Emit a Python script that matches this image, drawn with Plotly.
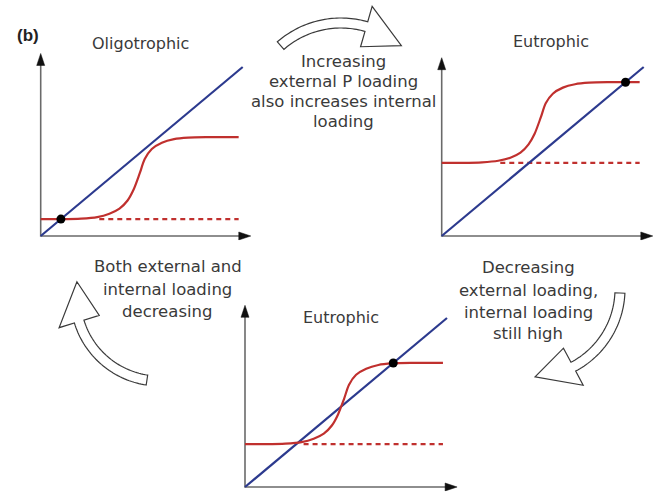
import math
import plotly.graph_objects as go

W, H = 660, 492

# ---------------- data ----------------
line_x = [0, 10]                    # 1:1 sedimentation line
line_y = [0, 10]
curve_x = [0, 1, 2, 2.8, 3.4, 3.9, 4.3, 4.6, 4.9, 5.15, 5.5, 6.0, 6.6, 7.3, 8.2, 9.8]
oligo_y = [1.0, 1.0, 1.03, 1.12, 1.32, 1.62, 2.1, 2.75, 3.7, 4.55, 5.15, 5.52, 5.73, 5.82, 5.85, 5.85]
eutro_up_y = [4.33, 4.33, 4.36, 4.45, 4.63, 4.93, 5.42, 6.05, 7.0, 7.85, 8.42, 8.78, 8.98, 9.07, 9.1, 9.1]
eutro_down_y = [2.54, 2.54, 2.57, 2.66, 2.86, 3.16, 3.64, 4.28, 5.2, 6.05, 6.64, 7.0, 7.22, 7.31, 7.34, 7.34]
curves = [oligo_y, eutro_up_y, eutro_down_y]
dash_x = [2.9, 9.8]
base_levels = [1.0, 4.33, 2.54]
equilibria = [1.0, 9.1, 7.34]
titles = ["Oligotrophic", "Eutrophic", "Eutrophic"]
block_top = ["Increasing", "external P loading", "also increases internal", "loading"]
block_left = ["Both external and", "internal loading", "decreasing"]
block_right = ["Decreasing", "external loading,", "internal loading", "still high"]

# ---------------- layout helpers ----------------
RED = "#c0302e"
BLUE = "#2c3a8e"
TXT = "#3a3a3a"
FONT = "DejaVu Sans"

SX, SY = 20.2, 16.9              # px per data unit
XR, YR = [-0.5, 10.7], [-0.25, 11.2]
origins = [(40.7, 236), (441.7, 236), (245, 487)]
tips = [(10.4, 10.8), (10.45, 10.55), (10.5, 10.75)]
title_pos = [(140, 43), (551, 42), (341, 317)]

fig = go.Figure()
layout_axes = {}
annotations = []

for i in range(3):
    ox, oy = origins[i]
    sfx = "" if i == 0 else str(i + 1)
    xa, ya = "x" + sfx, "y" + sfx
    layout_axes["xaxis" + sfx] = dict(
        domain=[(ox + XR[0] * SX) / W, (ox + XR[1] * SX) / W],
        range=XR, visible=False, anchor=ya, fixedrange=True)
    layout_axes["yaxis" + sfx] = dict(
        domain=[1 - (oy - YR[0] * SY) / H, 1 - (oy - YR[1] * SY) / H],
        range=YR, visible=False, anchor=xa, fixedrange=True)

    xt, yt = tips[i]
    # axis shafts
    fig.add_trace(go.Scatter(x=[0, 0, xt - 0.3], y=[yt - 0.3, 0, 0], mode="lines",
                             line=dict(color="#6a6a6a", width=1.6),
                             xaxis=xa, yaxis=ya, hoverinfo="skip", showlegend=False))
    # arrow heads
    hlx, hwx = 12 / SX, 4 / SY
    hly, hwy = 12 / SY, 4 / SX
    fig.add_trace(go.Scatter(x=[xt, xt - hlx, xt - hlx, xt], y=[0, hwx, -hwx, 0],
                             mode="lines", fill="toself", fillcolor="#111",
                             line=dict(color="#111", width=0.5),
                             xaxis=xa, yaxis=ya, hoverinfo="skip", showlegend=False))
    fig.add_trace(go.Scatter(x=[0, hwy, -hwy, 0], y=[yt, yt - hly, yt - hly, yt],
                             mode="lines", fill="toself", fillcolor="#111",
                             line=dict(color="#111", width=0.5),
                             xaxis=xa, yaxis=ya, hoverinfo="skip", showlegend=False))
    # dashed base level
    fig.add_trace(go.Scatter(x=dash_x, y=[base_levels[i]] * 2, mode="lines",
                             line=dict(color=RED, width=2.2, dash="5px,4px"),
                             xaxis=xa, yaxis=ya, hoverinfo="skip", showlegend=False))
    # 1:1 line
    fig.add_trace(go.Scatter(x=line_x, y=line_y, mode="lines",
                             line=dict(color=BLUE, width=2.2),
                             xaxis=xa, yaxis=ya, hoverinfo="skip", showlegend=False))
    # sigmoid recycling curve
    fig.add_trace(go.Scatter(x=curve_x, y=curves[i], mode="lines",
                             line=dict(color=RED, width=2.2, shape="spline", smoothing=0.8),
                             xaxis=xa, yaxis=ya, hoverinfo="skip", showlegend=False))
    # equilibrium point
    fig.add_trace(go.Scatter(x=[equilibria[i]], y=[equilibria[i]], mode="markers",
                             marker=dict(color="black", size=9),
                             cliponaxis=False,
                             xaxis=xa, yaxis=ya, hoverinfo="skip", showlegend=False))
    tx, ty = title_pos[i]
    annotations.append(dict(text=titles[i], x=tx / W, y=1 - ty / H, xref="paper", yref="paper",
                            showarrow=False, xanchor="center", yanchor="middle",
                            font=dict(family=FONT, size=16, color=TXT)))


def add_block(lines, cx, ys, size=16.5):
    for t, yy in zip(lines, ys):
        annotations.append(dict(text=t, x=cx / W, y=1 - yy / H, xref="paper", yref="paper",
                                showarrow=False, xanchor="center", yanchor="middle",
                                font=dict(family=FONT, size=size, color=TXT)))


add_block(block_top, 343, [62, 82, 102, 122])
add_block(block_left, 168, [266, 289, 311])
add_block(block_right, 528, [267, 290, 312, 333])
annotations.append(dict(text="<b>(b)</b>", x=28 / W, y=1 - 35 / H, xref="paper", yref="paper",
                        showarrow=False, xanchor="center", yanchor="middle",
                        font=dict(family="Liberation Sans", size=17, color="#222")))


def curved_arrow(cx, cy, r, a_tail, a_head, a_tip, w=10, hw=21, n=40):
    def p(rad, ang):
        a = math.radians(ang)
        x = cx + rad * math.cos(a)
        y = cy - rad * math.sin(a)
        return f"{x / W:.5f},{1 - y / H:.5f}"
    pts = []
    for k in range(n + 1):
        pts.append(p(r + w / 2, a_tail + (a_head - a_tail) * k / n))
    pts.append(p(r + hw, a_head))
    pts.append(p(r, a_tip))
    pts.append(p(r - hw, a_head))
    for k in range(n + 1):
        pts.append(p(r - w / 2, a_head + (a_tail - a_head) * k / n))
    path = "M" + " L".join(pts) + " Z"
    return dict(type="path", path=path, xref="paper", yref="paper",
                fillcolor="white", line=dict(color="#3a3a3a", width=1.2), layer="above")


shapes = [
    curved_arrow(341, 115, 92, 131, 74, 49),
    curved_arrow(532, 289, 88, -2.6, -62, -88),
    curved_arrow(159.5, 297, 84, 261.4, 197, 169.5),
]

fig.update_layout(width=W, height=H, margin=dict(l=0, r=0, t=0, b=0),
                  paper_bgcolor="white", plot_bgcolor="rgba(0,0,0,0)",
                  annotations=annotations, shapes=shapes, showlegend=False,
                  **layout_axes)

fig.write_html("out.html")
